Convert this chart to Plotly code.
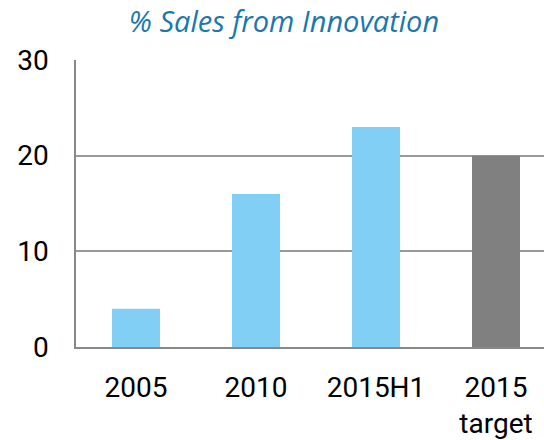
import plotly.graph_objects as go

# chart data
categories = ['2005', '2010', '2015H1', '2015<br>target']
sales_pct = [4, 16, 23, 20]
bar_colors = ['#82CFF5', '#82CFF5', '#82CFF5', '#808080']
y_ticks = [0, 10, 20, 30]

trace = go.Bar(
    x = categories,
    y = sales_pct,
    marker = dict(color = bar_colors, line = dict(width = 0)),
    width = 0.4
)

layout = dict(
    width = 544,
    height = 440,
    margin = dict(l = 76, r = 0, t = 60, b = 93),
    paper_bgcolor = 'white',
    plot_bgcolor = 'white',
    showlegend = False,
    font = dict(family = "Roboto, Open Sans, sans-serif", size = 28, color = 'black'),
    title = dict(
        text = '<i>% Sales from Innovation</i>',
        x = 0.522, xanchor = 'center',
        y = 0.95, yanchor = 'middle',
        font = dict(family = "Open Sans, sans-serif", size = 29, color = '#1A78AD')
    ),
    xaxis = dict(
        range = [-0.5, 3.4],
        showline = True, linecolor = '#888888', linewidth = 2,
        showgrid = False, ticks = '', ticklabelstandoff = 14,
        fixedrange = True
    ),
    yaxis = dict(
        range = [0, 30],
        tickvals = y_ticks,
        showline = True, linecolor = '#888888', linewidth = 1.5,
        showgrid = True, gridcolor = '#999999', gridwidth = 1.5,
        zeroline = False, ticks = '', ticklabelstandoff = 20,
        fixedrange = True
    )
)

fig = go.Figure(data = trace, layout = layout)
# drop the default body margin so the figure fills the window exactly
fig.write_html("out.html", config = dict(displayModeBar = False),
               post_script = "document.body.style.margin = '0';")
